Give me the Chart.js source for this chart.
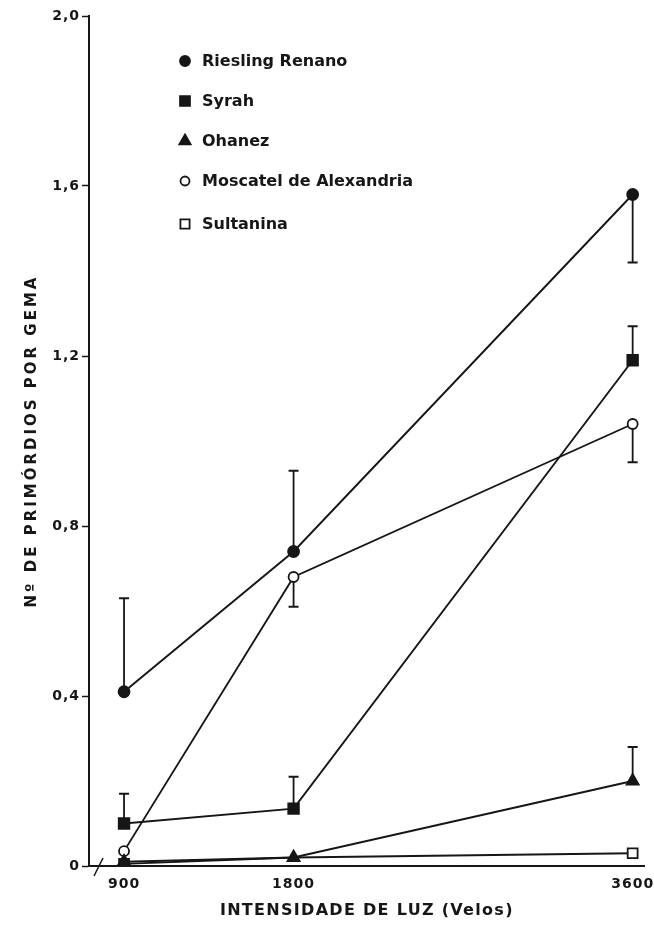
<!DOCTYPE html>
<html>
<head>
<meta charset="utf-8">
<script src="https://cdn.jsdelivr.net/npm/chart.js@4.4.1/dist/chart.umd.min.js"></script>
<style>
  html, body { margin: 0; padding: 0; background: #fff; }
  #wrap { width: 654px; height: 927px; }
</style>
</head>
<body>
<div id="wrap"><canvas id="chart"></canvas></div>
<script>
// light intensity (x) and tick values
const xValues = [900, 1800, 3600];
const xTicks = [900, 1800, 3600];
const yTicks = [0, 0.4, 0.8, 1.2, 1.6, 2.0];

const names = ['Riesling Renano', 'Syrah', 'Ohanez', 'Moscatel de Alexandria', 'Sultanina'];

// mean number of primordia per bud
const riesling = [0.41, 0.74, 1.58];
const syrah = [0.10, 0.135, 1.19];
const ohanez = [0.01, 0.02, 0.20];
const moscatel = [0.035, 0.68, 1.04];
const sultanina = [0.005, 0.02, 0.03];

// end of the one-sided error bars (null = none drawn)
const rieslingErr = [0.63, 0.93, 1.42];
const syrahErr = [0.17, 0.21, 1.27];
const ohanezErr = [null, null, 0.28];
const moscatelErr = [null, 0.61, 0.95];
const sultaninaErr = [null, null, null];

const ink = '#161616';

function pts(arr) {
  return arr.map((v, i) => ({ x: xValues[i], y: v }));
}

const styles = [
  { pointStyle: 'circle', radius: 5.5, fill: ink },
  { pointStyle: 'rect', radius: 7.5, fill: ink },
  { pointStyle: 'triangle', radius: 7, fill: ink },
  { pointStyle: 'circle', radius: 5, fill: '#fff' },
  { pointStyle: 'rect', radius: [7, 0, 7], fill: '#fff' }
];
const values = [riesling, syrah, ohanez, moscatel, sultanina];
const errs = [rieslingErr, syrahErr, ohanezErr, moscatelErr, sultaninaErr];

const datasets = values.map((v, i) => ({
  label: names[i],
  data: pts(v),
  borderColor: ink,
  borderWidth: 1.9,
  pointStyle: styles[i].pointStyle,
  pointRadius: styles[i].radius,
  pointBackgroundColor: styles[i].fill,
  pointBorderColor: ink,
  pointBorderWidth: 1.8,
  fill: false,
  tension: 0
}));

// per-axis letter spacing for the axis titles
const titleSpacing = { x: '1.3px', y: '3px' };
const baseDrawTitle = Chart.LinearScale.prototype.drawTitle;
Chart.LinearScale.prototype.drawTitle = function () {
  this.ctx.save();
  this.ctx.letterSpacing = titleSpacing[this.id] || '0px';
  baseDrawTitle.call(this);
  this.ctx.restore();
};

const errorBars = {
  id: 'errorBars',
  beforeDatasetsDraw(chart) {
    const ctx = chart.ctx;
    const xs = chart.scales.x, ys = chart.scales.y;
    ctx.save();
    ctx.strokeStyle = ink;
    ctx.lineWidth = 1.8;
    errs.forEach((e, s) => {
      e.forEach((end, i) => {
        if (end == null) return;
        const x = xs.getPixelForValue(xValues[i]);
        const y0 = ys.getPixelForValue(values[s][i]);
        const y1 = ys.getPixelForValue(end);
        ctx.beginPath();
        ctx.moveTo(x, y0); ctx.lineTo(x, y1);
        ctx.moveTo(x - 5, y1); ctx.lineTo(x + 5, y1);
        ctx.stroke();
      });
    });
    ctx.restore();
  }
};

const legendBox = {
  id: 'legendBox',
  afterDraw(chart) {
    const ctx = chart.ctx;
    ctx.save();
    ctx.letterSpacing = '0px';
    ctx.font = 'bold 16px "DejaVu Sans"';
    ctx.textBaseline = 'middle';
    const rows = [61, 101, 141, 181, 224];
    names.forEach((n, i) => {
      const r = Array.isArray(styles[i].radius) ? styles[i].radius[0] : styles[i].radius;
      ctx.fillStyle = styles[i].fill;
      ctx.strokeStyle = ink;
      ctx.lineWidth = 1.8;
      Chart.helpers.drawPoint(ctx, {
        pointStyle: styles[i].pointStyle,
        radius: r - 0.5,
        rotation: 0,
        borderWidth: 1.8
      }, 185, rows[i]);
      ctx.fillStyle = ink;
      ctx.fillText(n, 202, rows[i] + 1);
    });
    // axis break mark
    const y0 = chart.scales.y.getPixelForValue(0);
    ctx.strokeStyle = ink;
    ctx.lineWidth = 1.5;
    ctx.beginPath();
    ctx.moveTo(94, y0 + 10); ctx.lineTo(103, y0 - 8);
    ctx.stroke();
    ctx.restore();
  }
};

const spacing = {
  id: 'spacing',
  beforeDraw(chart) { chart.ctx.letterSpacing = '1px'; }
};

new Chart(document.getElementById('chart'), {
  type: 'line',
  data: { datasets },
  options: {
    responsive: true,
    maintainAspectRatio: false,
    animation: false,
    layout: { padding: { left: 0, top: 16, right: 9, bottom: 0 } },
    plugins: {
      legend: { display: false },
      tooltip: { enabled: false },
      title: { display: false }
    },
    scales: {
      x: {
        type: 'linear',
        min: 714,
        max: 3664,
        afterFit: s => { s.height = 61; s.paddingLeft = 0; s.paddingRight = 0; },
        afterBuildTicks: s => { s.ticks = xTicks.map(v => ({ value: v })); },
        grid: { drawOnChartArea: false, drawTicks: false },
        border: { color: ink, width: 2 },
        ticks: {
          padding: 10,
          color: ink,
          font: { family: 'DejaVu Sans', size: 14, weight: 'bold' },
          callback: v => String(v)
        },
        title: {
          display: true,
          text: 'INTENSIDADE DE LUZ (Velos)',
          color: ink,
          font: { family: 'DejaVu Sans', size: 16, weight: 'bold' },
          padding: { top: 2, bottom: 7 }
        }
      },
      y: {
        min: 0,
        max: 2.0,
        afterFit: s => { s.width = 89; s.paddingTop = 0; s.paddingBottom = 0; },
        afterBuildTicks: s => { s.ticks = yTicks.map(v => ({ value: v })); },
        grid: { drawOnChartArea: false, tickLength: 7, color: ink, tickWidth: 1.5 },
        border: { color: ink, width: 2 },
        ticks: {
          padding: 2,
          color: ink,
          font: { family: 'DejaVu Sans', size: 14, weight: 'bold' },
          callback: v => v === 0 ? '0' : v.toFixed(1).replace('.', ',')
        },
        title: {
          display: true,
          text: 'Nº DE PRIMÓRDIOS POR GEMA',
          color: ink,
          font: { family: 'DejaVu Sans', size: 15, weight: 'bold' },
          padding: { top: 23, bottom: 0 }
        }
      }
    }
  },
  plugins: [spacing, errorBars, legendBox]
});
</script>
</body>
</html>
